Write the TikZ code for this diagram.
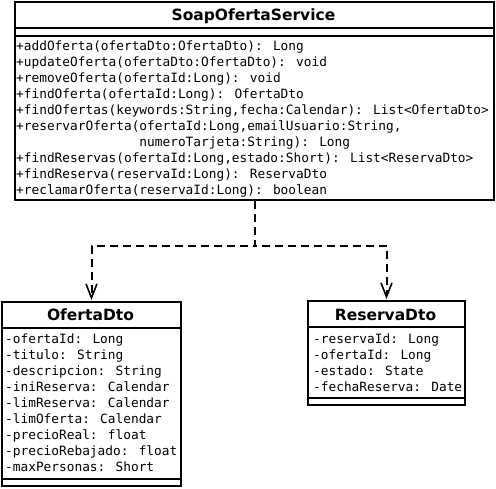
\documentclass[tikz,border=0pt]{standalone}
\usepackage{fontspec}
\newfontfamily\monof{DejaVu Sans Mono}
\newfontfamily\titlef{DejaVu Sans}
\usetikzlibrary{arrows.meta}
\begin{document}
\begin{tikzpicture}[x=1pt,y=-1pt,
  classbox/.style={draw, line width=2pt, rectangle, inner sep=0pt, anchor=north west},
  ctitle/.style={font=\titlef\bfseries\fontsize{15.5}{18}\selectfont, inner sep=0pt, anchor=base},
  members/.style={font=\monof\fontsize{12.8}{16}\selectfont, align=left, inner sep=0pt, anchor=north west},
  sepline/.style={line width=2pt},
  dep/.style={line width=2pt, dash pattern=on 8pt off 5pt, -{Straight Barb[length=14pt,width=11pt,line width=1.6pt]}, shorten >=1pt}]
\useasboundingbox (0,0) rectangle (496,488);
% SoapOfertaService
\node[classbox, minimum width=479pt, minimum height=198pt] (svc) at (14,1) {};
\draw[sepline] ([yshift=-27pt]svc.north west) -- ([yshift=-27pt]svc.north east);
\draw[sepline] ([yshift=-35pt]svc.north west) -- ([yshift=-35pt]svc.north east);
\node[ctitle] (svct) at (253.5,20) {SoapOfertaService};
\node[members] (svcm) at (16,40.3) {+addOferta(ofertaDto:OfertaDto): Long\\
+updateOferta(ofertaDto:OfertaDto): void\\
+removeOferta(ofertaId:Long): void\\
+findOferta(ofertaId:Long): OfertaDto\\
+findOfertas(keywords:String,fecha:Calendar): List<OfertaDto>\\
+reservarOferta(ofertaId:Long,emailUsuario:String,\\
\phantom{+reservarOferta(}numeroTarjeta:String): Long\\
+findReservas(ofertaId:Long,estado:Short): List<ReservaDto>\\
+findReserva(reservaId:Long): ReservaDto\\
+reclamarOferta(reservaId:Long): boolean};
% OfertaDto
\node[classbox, minimum width=179pt, minimum height=184pt] (ofe) at (1,301) {};
\draw[sepline] ([yshift=-27pt]ofe.north west) -- ([yshift=-27pt]ofe.north east);
\draw[sepline] ([yshift=8pt]ofe.south west) -- ([yshift=8pt]ofe.south east);
\node[ctitle] (ofet) at (90.5,320) {OfertaDto};
\node[members] (ofem) at (5,333.3) {-ofertaId: Long\\
-titulo: String\\
-descripcion: String\\
-iniReserva: Calendar\\
-limReserva: Calendar\\
-limOferta: Calendar\\
-precioReal: float\\
-precioRebajado: float\\
-maxPersonas: Short};
% ReservaDto
\node[classbox, minimum width=157pt, minimum height=104pt] (res) at (307,300) {};
\draw[sepline] ([yshift=-27pt]res.north west) -- ([yshift=-27pt]res.north east);
\draw[sepline] ([yshift=8pt]res.south west) -- ([yshift=8pt]res.south east);
\node[ctitle] (rest) at (385.5,320) {ReservaDto};
\node[members] (resm) at (313,333.3) {-reservaId: Long\\
-ofertaId: Long\\
-estado: State\\
-fechaReserva: Date};
% dependencies
\coordinate (junc) at (0,246);
\draw[dep] (svc.south) -- (svc.south |- junc) -| (ofe.north);
\draw[dep] (svc.south) -- (svc.south |- junc) -| (res.north);
\end{tikzpicture}
\end{document}
